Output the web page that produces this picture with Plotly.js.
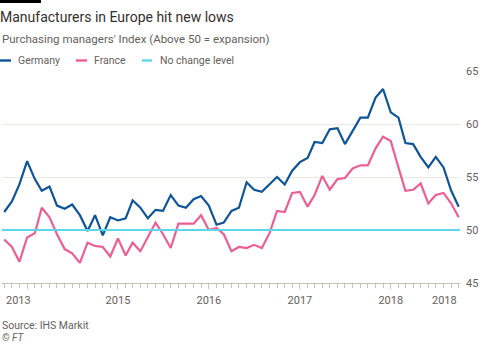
<!DOCTYPE html>
<html>
<head>
<meta charset="utf-8">
<script src="https://cdn.plot.ly/plotly-3.0.1.min.js"></script>
<style>html,body{margin:0;padding:0;background:#fff}#chart{width:480px;height:343px}</style>
</head>
<body>
<div id="chart"></div>
<script>
// Monthly dates, Oct 2013 – Oct 2018
const months = [
  '2013-10-01','2013-11-01','2013-12-01',
  '2014-01-01','2014-02-01','2014-03-01','2014-04-01','2014-05-01','2014-06-01','2014-07-01','2014-08-01','2014-09-01','2014-10-01','2014-11-01','2014-12-01',
  '2015-01-01','2015-02-01','2015-03-01','2015-04-01','2015-05-01','2015-06-01','2015-07-01','2015-08-01','2015-09-01','2015-10-01','2015-11-01','2015-12-01',
  '2016-01-01','2016-02-01','2016-03-01','2016-04-01','2016-05-01','2016-06-01','2016-07-01','2016-08-01','2016-09-01','2016-10-01','2016-11-01','2016-12-01',
  '2017-01-01','2017-02-01','2017-03-01','2017-04-01','2017-05-01','2017-06-01','2017-07-01','2017-08-01','2017-09-01','2017-10-01','2017-11-01','2017-12-01',
  '2018-01-01','2018-02-01','2018-03-01','2018-04-01','2018-05-01','2018-06-01','2018-07-01','2018-08-01','2018-09-01','2018-10-01'
];
const germany = [
  51.7,52.7,54.3,
  56.5,54.8,53.7,54.1,52.3,52.0,52.4,51.4,49.9,51.4,49.5,51.2,
  50.9,51.1,52.8,52.1,51.1,51.9,51.8,53.3,52.3,52.1,52.9,53.2,
  52.3,50.5,50.7,51.8,52.1,54.5,53.8,53.6,54.3,55.0,54.3,55.6,
  56.4,56.8,58.3,58.2,59.5,59.6,58.1,59.3,60.6,60.6,62.5,63.3,
  61.1,60.6,58.2,58.1,56.9,55.9,56.9,55.9,53.7,52.2
];
const france = [
  49.1,48.4,47.0,
  49.3,49.7,52.1,51.2,49.6,48.2,47.8,46.9,48.8,48.5,48.4,47.5,
  49.2,47.6,48.8,48.0,49.4,50.7,49.6,48.3,50.6,50.6,50.6,51.4,
  50.0,50.2,49.6,48.0,48.4,48.3,48.6,48.3,49.7,51.8,51.7,53.5,
  53.6,52.2,53.3,55.1,53.8,54.8,54.9,55.8,56.1,56.1,57.7,58.8,
  58.4,55.9,53.7,53.8,54.4,52.5,53.3,53.5,52.5,51.2
];
const noChangeLevel = 50;
const seriesNames = ['Germany', 'France', 'No change level'];
const yTicks = [45, 50, 55, 60, 65];
const yearTickVals = ['2014-01-01','2015-01-01','2016-01-01','2017-01-01','2018-01-01'];
const yearTickText = ['', '2015', '2016', '2017', '2018'];

const colors = ['#0f5499', '#ec5f93', '#5fd6ea'];
const textGrey = '#66605c';
const FONT = 'Roboto, "Liberation Sans", sans-serif';

// plot area in pixels: x 2..460, y 71..283
const L = 2, R = 460, T = 71, B = 283, W = 480, H = 343;
const px = v => (v - L) / (R - L);
const py = v => (B - v) / (B - T);

const traces = [
  {x: months, y: germany, type: 'scatter', mode: 'lines', name: seriesNames[0],
   line: {color: colors[0], width: 2.2}, hoverinfo: 'skip'},
  {x: months, y: france, type: 'scatter', mode: 'lines', name: seriesNames[1],
   line: {color: colors[1], width: 2.2}, hoverinfo: 'skip'}
];

const shapes = [
  // FT black bar
  {type: 'rect', xref: 'paper', yref: 'paper', x0: px(0), x1: px(41), y0: py(0), y1: py(3),
   fillcolor: '#000', line: {width: 0}},
  // no change level
  {type: 'line', xref: 'paper', yref: 'y', x0: 0, x1: 1, y0: noChangeLevel, y1: noChangeLevel,
   line: {color: colors[2], width: 2}, opacity: 1, layer: 'above'}
];
const legendX = [[0, 11, 16], [76, 87, 92], [142, 152, 158]];
const annotations = [];
seriesNames.forEach((n, i) => {
  const [a, b, t] = legendX[i];
  shapes.push({type: 'line', xref: 'paper', yref: 'paper', x0: px(a), x1: px(b), y0: py(60.5), y1: py(60.5),
    line: {color: colors[i], width: 2.4}, opacity: 1});
  annotations.push({text: n, xref: 'paper', yref: 'paper', x: px(t), y: py(60.5), xanchor: 'left', yanchor: 'middle',
    showarrow: false, font: {family: FONT, size: 10.5, color: textGrey}});
});
annotations.push(
  {text: "Purchasing managers' Index (Above 50 = expansion)", xref: 'paper', yref: 'paper', x: px(0), y: py(39.5),
   xanchor: 'left', yanchor: 'middle', showarrow: false, font: {family: FONT, size: 11.5, color: textGrey}},
  {text: months[0].slice(0, 4), xref: 'x', yref: 'paper', x: months[0], y: py(300.5), xanchor: 'left', yanchor: 'middle',
   showarrow: false, font: {family: FONT, size: 11, color: textGrey}},
  {text: months[months.length - 1].slice(0, 4), xref: 'x', yref: 'paper', x: months[months.length - 1], y: py(300.5),
   xanchor: 'right', yanchor: 'middle', showarrow: false, font: {family: FONT, size: 11, color: textGrey}},
  {text: 'Source: IHS Markit', xref: 'paper', yref: 'paper', x: px(0), y: py(325), xanchor: 'left', yanchor: 'middle',
   showarrow: false, font: {family: FONT, size: 10.5, color: textGrey}},
  {text: '<i>© FT</i>', xref: 'paper', yref: 'paper', x: px(0), y: py(337), xanchor: 'left', yanchor: 'middle',
   showarrow: false, font: {family: FONT, size: 10, color: textGrey}}
);

const layout = {
  width: W, height: H,
  margin: {l: L, r: W - R, t: T, b: H - B, pad: 0},
  paper_bgcolor: '#fff', plot_bgcolor: '#fff',
  showlegend: false,
  title: {text: 'Manufacturers in Europe hit new lows', x: 0, xref: 'container', xanchor: 'left',
    y: 1 - 17 / H, yref: 'container', yanchor: 'middle', pad: {t: 0, b: 0, l: 0, r: 0},
    font: {family: FONT, size: 14, color: '#33302e'}},
  xaxis: {type: 'date', range: ['2013-09-22 03:00', '2018-10-06 05:00'],
    tickmode: 'array', tickvals: yearTickVals, ticktext: yearTickText,
    ticks: 'outside', ticklen: 5, tickwidth: 1, tickcolor: '#ccc1b7', ticklabelstandoff: 2,
    minor: {dtick: 'M1', tick0: months[0], ticks: 'outside', ticklen: 4, tickcolor: '#ccc1b7', tickwidth: 1, showgrid: false},
    showline: true, linecolor: '#ccc1b7', linewidth: 1, showgrid: false, zeroline: false,
    tickfont: {family: FONT, size: 11, color: textGrey}, fixedrange: true},
  yaxis: {range: [45, 65], side: 'right', tickmode: 'array', tickvals: yTicks,
    showgrid: true, gridcolor: '#efe7e1', gridwidth: 1, zeroline: false, ticks: '', ticklabelstandoff: 5,
    tickfont: {family: FONT, size: 11, color: textGrey}, fixedrange: true},
  shapes: shapes,
  annotations: annotations
};

Plotly.newPlot('chart', traces, layout, {displayModeBar: false, staticPlot: true});
</script>
</body>
</html>
